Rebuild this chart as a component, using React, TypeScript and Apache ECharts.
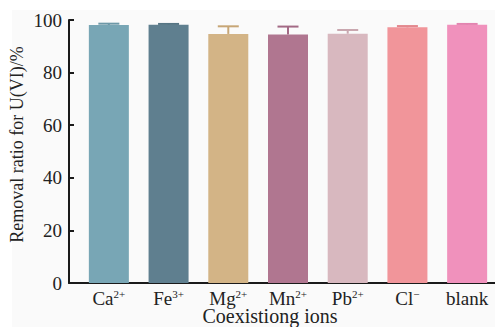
import React, { useEffect, useRef } from "react";
import * as echarts from "echarts";

const ions = ["Ca", "Fe", "Mg", "Mn", "Pb", "Cl", "blank"];
const charges = ["2+", "3+", "2+", "2+", "2+", "−", ""];
const removal = [98.1, 98.2, 94.7, 94.5, 94.8, 97.2, 98.2];
const errors = [0.5, 0.3, 2.9, 3.0, 1.4, 0.5, 0.3];
const barColors = ["#78a6b5", "#5f7f8f", "#d3b486", "#b07690", "#d8b8bf", "#f1959a", "#f091bc"];
const errColors = ["#6d98a7", "#567584", "#c7a676", "#a36a85", "#c9a7af", "#e3888e", "#e384b0"];
const yTicks = { min: 0, max: 100, interval: 20 };

const FONT = "'Liberation Serif', 'Times New Roman', serif";

export default function App() {
  const ref = useRef<HTMLDivElement>(null);
  useEffect(() => {
    document.body.style.margin = "0";
    const chart = echarts.init(ref.current!, null, { renderer: "svg" });
    const catLabels = ions.map((n, i) => (charges[i] ? `${n}{s|${charges[i]}}` : n));
    chart.setOption({
      animation: false,
      backgroundColor: "#ffffff",
      graphic: [
        { type: "rect", z: -10, shape: { x: 12, y: 10, width: 483, height: 317 }, style: { fill: "#fafafa" }, silent: true },
      ],
      grid: [
        { left: 69, right: 0, top: 20, bottom: 44, outerBoundsMode: "none", containLabel: false },
        { left: 79, width: 418, top: 20, bottom: 44, outerBoundsMode: "none", containLabel: false },
      ],
      xAxis: [
        {
          type: "value",
          gridIndex: 0,
          min: 0,
          max: 1,
          axisLine: { show: true, onZero: false, lineStyle: { color: "#1a1a1a", width: 2 } },
          axisTick: { show: false },
          axisLabel: { show: false },
          splitLine: { show: false },
        },
        {
          type: "category",
          gridIndex: 1,
          data: catLabels,
          axisLine: { show: false },
          axisTick: { show: true, inside: true, length: 5, alignWithLabel: true, lineStyle: { color: "#1a1a1a", width: 2 } },
          axisLabel: {
            interval: 0,
            margin: 7,
            fontFamily: FONT,
            fontSize: 19,
            lineHeight: 16,
            color: "#222",
            rich: { s: { fontFamily: FONT, fontSize: 11, lineHeight: 16, color: "#222", padding: [0, 0, 8, 0] } },
          },
          name: "Coexistiong ions",
          nameLocation: "middle",
          nameMoveOverlap: false,
          nameGap: 23,
          nameTextStyle: { fontFamily: FONT, fontSize: 20, lineHeight: 20, color: "#222", padding: [0, 36, 0, 0] },
        },
      ],
      yAxis: [
        {
          type: "value",
          gridIndex: 0,
          ...yTicks,
          axisLine: { show: true, lineStyle: { color: "#1a1a1a", width: 2 } },
          axisTick: { show: true, inside: true, length: 5, lineStyle: { color: "#1a1a1a", width: 2 } },
          axisLabel: { margin: 7, fontFamily: FONT, fontSize: 19, color: "#222" },
          splitLine: { show: false },
          name: "Removal ratio for U(VI)/%",
          nameLocation: "middle",
          nameMoveOverlap: false,
          nameGap: 43,
          nameTextStyle: { fontFamily: FONT, fontSize: 18, color: "#222", padding: [0, 0, 0, 14] },
        },
        { type: "value", gridIndex: 1, ...yTicks, show: false },
      ],
      series: [
        {
          type: "bar",
          xAxisIndex: 1,
          yAxisIndex: 1,
          barWidth: 40,
          data: removal.map((v, i) => ({ value: v, itemStyle: { color: barColors[i] } })),
        },
        {
          type: "custom",
          xAxisIndex: 1,
          yAxisIndex: 1,
          z: 3,
          data: removal.map((v, i) => [i, v, errors[i]]),
          renderItem: (params: any, api: any) => {
            const i = api.value(0);
            const base = api.coord([i, api.value(1)]);
            const top = api.coord([i, api.value(1) + api.value(2)]);
            const c = errColors[params.dataIndex];
            const hw = 10.5;
            return {
              type: "group",
              children: [
                { type: "line", shape: { x1: base[0], y1: base[1], x2: top[0], y2: top[1] }, style: { stroke: c, lineWidth: 2 } },
                { type: "line", shape: { x1: top[0] - hw, y1: top[1], x2: top[0] + hw, y2: top[1] }, style: { stroke: c, lineWidth: 2 } },
              ],
            };
          },
        },
      ],
    });
    return () => chart.dispose();
  }, []);
  return <div ref={ref} style={{ width: 495, height: 327 }} />;
}
